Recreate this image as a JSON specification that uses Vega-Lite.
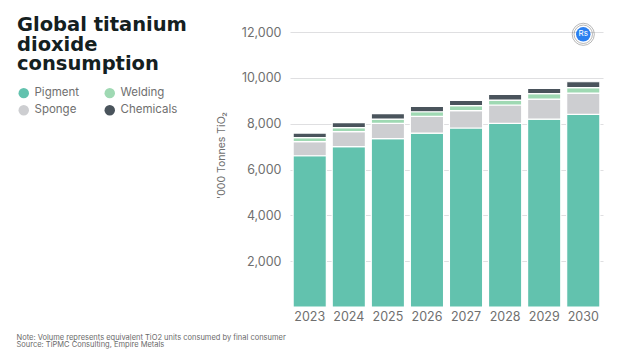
{
"$schema":"https://vega.github.io/schema/vega-lite/v6.json",
"width":313,"height":275,
"autosize":{"type":"none"},
"padding":{"left":290,"top":32,"right":22,"bottom":45},
"background":"white",
"config":{"view":{"stroke":null}},
"title":{"text":["Global titanium","dioxide","consumption"],"anchor":"start","frame":"group","align":"left","baseline":"top","orient":"top","dx":-273,"dy":52.5,"offset":0,"font":"DejaVu Sans","fontWeight":"bold","fontSize":19.5,"lineHeight":19.5,"color":"#14201f"},
"datasets":{
"bars":[
{"year":"2023","type":"Pigment","order":1,"value":6600},{"year":"2023","type":"Sponge","order":2,"value":613},{"year":"2023","type":"Welding","order":3,"value":174},{"year":"2023","type":"Chemicals","order":4,"value":203},
{"year":"2024","type":"Pigment","order":1,"value":6995},{"year":"2024","type":"Sponge","order":2,"value":655},{"year":"2024","type":"Welding","order":3,"value":175},{"year":"2024","type":"Chemicals","order":4,"value":220},
{"year":"2025","type":"Pigment","order":1,"value":7345},{"year":"2025","type":"Sponge","order":2,"value":665},{"year":"2025","type":"Welding","order":3,"value":190},{"year":"2025","type":"Chemicals","order":4,"value":235},
{"year":"2026","type":"Pigment","order":1,"value":7590},{"year":"2026","type":"Sponge","order":2,"value":730},{"year":"2026","type":"Welding","order":3,"value":200},{"year":"2026","type":"Chemicals","order":4,"value":235},
{"year":"2027","type":"Pigment","order":1,"value":7810},{"year":"2027","type":"Sponge","order":2,"value":755},{"year":"2027","type":"Welding","order":3,"value":220},{"year":"2027","type":"Chemicals","order":4,"value":230},
{"year":"2028","type":"Pigment","order":1,"value":8010},{"year":"2028","type":"Sponge","order":2,"value":805},{"year":"2028","type":"Welding","order":3,"value":215},{"year":"2028","type":"Chemicals","order":4,"value":250},
{"year":"2029","type":"Pigment","order":1,"value":8200},{"year":"2029","type":"Sponge","order":2,"value":875},{"year":"2029","type":"Welding","order":3,"value":235},{"year":"2029","type":"Chemicals","order":4,"value":230},
{"year":"2030","type":"Pigment","order":1,"value":8405},{"year":"2030","type":"Sponge","order":2,"value":930},{"year":"2030","type":"Welding","order":3,"value":235},{"year":"2030","type":"Chemicals","order":4,"value":260}
],
"badge":[{"year":"2030","level":11900,"label":"Rs"}]
},
"encoding":{
"x":{"field":"year","type":"nominal","sort":null,"scale":{"paddingInner":0.15,"paddingOuter":0.08},
"axis":{"labelAngle":0,"ticks":false,"domain":false,"labelFont":"Inter","labelFontSize":12.5,"labelColor":"#6f6f6f","labelPadding":3,
"title":["Note: Volume represents equivalent TiO2 units consumed by final consumer","Source:  TiPMC Consulting, Empire Metals"],
"titleFont":"Inter","titleFontSize":7.5,"titleFontWeight":"normal","titleColor":"#6a6a6a","titleAnchor":"start","titleAlign":"left","titleBaseline":"middle","titleLineHeight":7.5,"titleX":-274,"titleY":30}}
},
"layer":[
{"data":{"name":"bars"},
"mark":{"type":"bar","stroke":"white","strokeWidth":1.2},
"encoding":{
"y":{"field":"value","type":"quantitative","stack":"zero","scale":{"domain":[0,12000],"nice":false},
"axis":{"values":[2000,4000,6000,8000,10000,12000],"labelExpr":"format(datum.value, ',')","ticks":false,"domain":false,"grid":true,"gridColor":"#dfdfe1","gridWidth":1.2,"labelFont":"Inter","labelFontSize":12.5,"labelColor":"#6f6f6f","labelPadding":9,
"title":"'000 Tonnes TiO₂","titleFont":"Inter","titleFontSize":10.5,"titleFontWeight":"normal","titleColor":"#6f6f6f","titleX":-64,"titleY":123,"titleAnchor":"middle"}},
"order":{"field":"order","type":"quantitative"},
"color":{"field":"type","type":"nominal","scale":{"domain":["Pigment","Sponge","Welding","Chemicals"],"range":["#62c2ae","#cdced1","#9fd9b3","#4a545c"]},
"legend":{"title":null,"orient":"none","legendX":-272,"legendY":55,"columns":2,"symbolType":"circle","symbolSize":110,"symbolStrokeWidth":0,"labelFont":"Inter","labelFontSize":11.5,"labelColor":"#6f6f6f","labelOffset":5,"columnPadding":24,"rowPadding":4.5}}
}},
{"data":{"name":"badge"},"mark":{"type":"point","shape":"circle","filled":false,"stroke":"#555","strokeWidth":0.6,"size":490},"encoding":{"y":{"field":"level","type":"quantitative"}}},
{"data":{"name":"badge"},"mark":{"type":"point","shape":"circle","filled":false,"stroke":"#555","strokeWidth":0.6,"size":340},"encoding":{"y":{"field":"level","type":"quantitative"}}},
{"data":{"name":"badge"},"mark":{"type":"point","shape":"circle","filled":true,"fill":"#2b7ff0","opacity":1,"size":210},"encoding":{"y":{"field":"level","type":"quantitative"}}},
{"data":{"name":"badge"},"mark":{"type":"text","font":"Inter","fontSize":8,"color":"white"},"encoding":{"y":{"field":"level","type":"quantitative"},"text":{"field":"label"}}}
]
}
